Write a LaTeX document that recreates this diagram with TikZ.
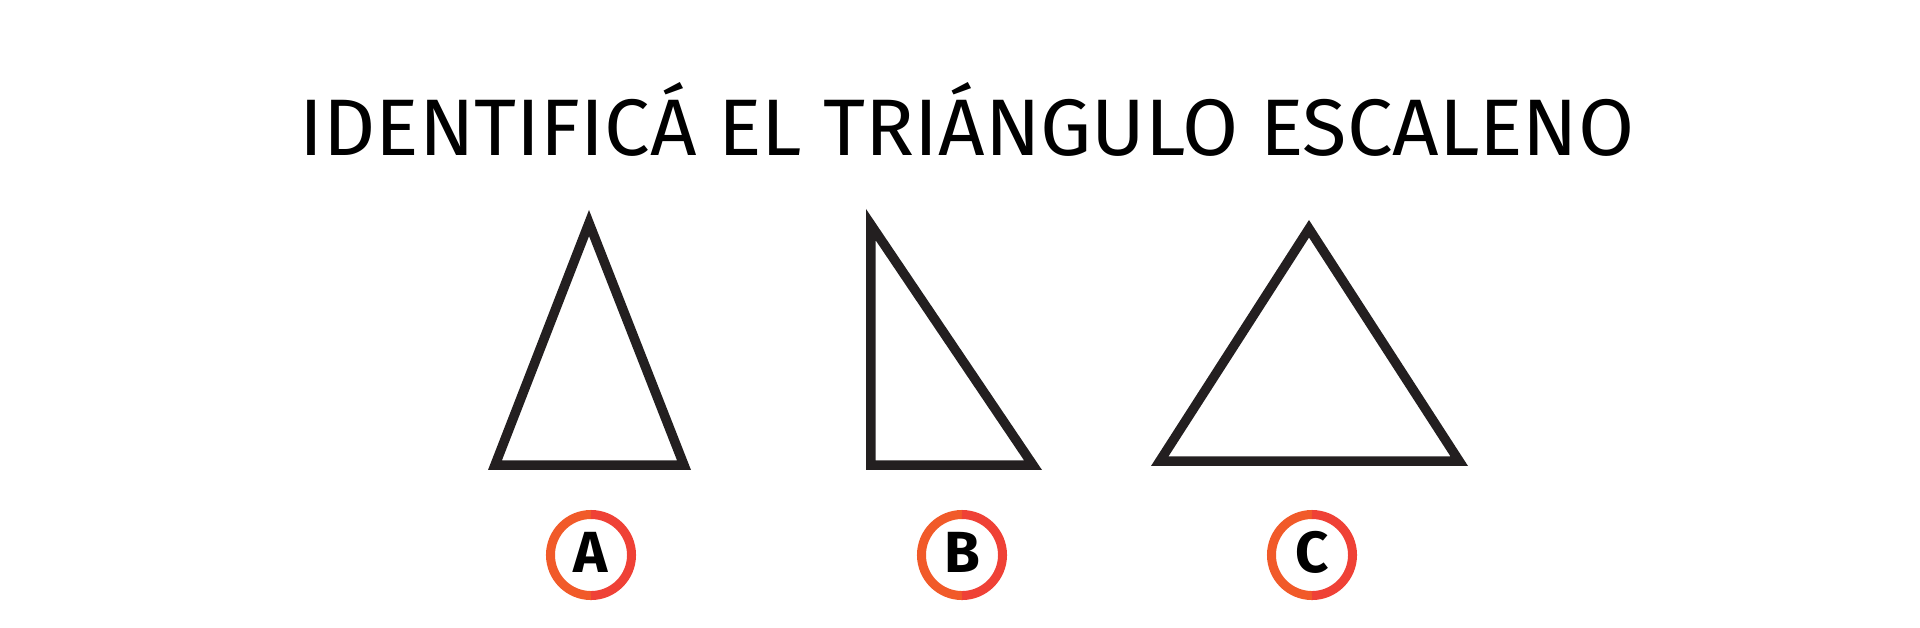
\documentclass[tikz,border=0pt]{standalone}
\usepackage{fontspec}
\setmainfont{Fira Sans}
\usepackage{graphicx}
\definecolor{ink}{HTML}{231F20}
\definecolor{ringL}{HTML}{F15A29}
\definecolor{ringR}{HTML}{EF4136}
\tikzset{
  trione/.style={draw=ink, line width=0.19cm, line join=miter},
  ringleft/.style={draw=ringL, line width=0.09cm},
  ringright/.style={draw=ringR, line width=0.09cm},
  letter/.style={inner sep=0pt, anchor=base, font=\fontsize{16.5pt}{18pt}\selectfont\bfseries, text=black},
  title/.style={inner sep=0pt, anchor=base west, text=black}
}
\begin{document}
\begin{tikzpicture}[x=0.01cm, y=-0.01cm]
\useasboundingbox (0,0) rectangle (1920,628);
% title
\node[title] (ttl) at (299,156) {\resizebox{13.34cm}{0.73cm}{IDENTIFICÁ EL TRIÁNGULO ESCALENO}};
% triangle A
\begin{scope}
  \clip (589,210) -- (488,470) -- (691,470) -- cycle;
  \draw[trione] (589,210) -- (488,470) -- (691,470) -- cycle;
\end{scope}
% triangle B
\begin{scope}
  \clip (866,209) -- (866,470) -- (1042,470) -- cycle;
  \draw[trione] (866,209) -- (866,470) -- (1042,470) -- cycle;
\end{scope}
% triangle C
\begin{scope}
  \clip (1309,220) -- (1151,466) -- (1468,466) -- cycle;
  \draw[trione] (1309,220) -- (1151,466) -- (1468,466) -- cycle;
\end{scope}
% option letters
\node[letter] (la) at (591,573) {A};
\node[letter] (lb) at (962,573) {B};
\node[letter] (lc) at (1312,573) {C};
% rings
\foreach \n/\cx in {ca/591, cb/962, cc/1312} {
  \coordinate (\n) at (\cx,555);
  \draw[ringleft] (\n) ++(0,-40.5) arc[start angle=90, end angle=270, radius=0.405cm];
  \draw[ringright] (\n) ++(0,-40.5) arc[start angle=90, end angle=-90, radius=0.405cm];
}
\end{tikzpicture}
\end{document}
